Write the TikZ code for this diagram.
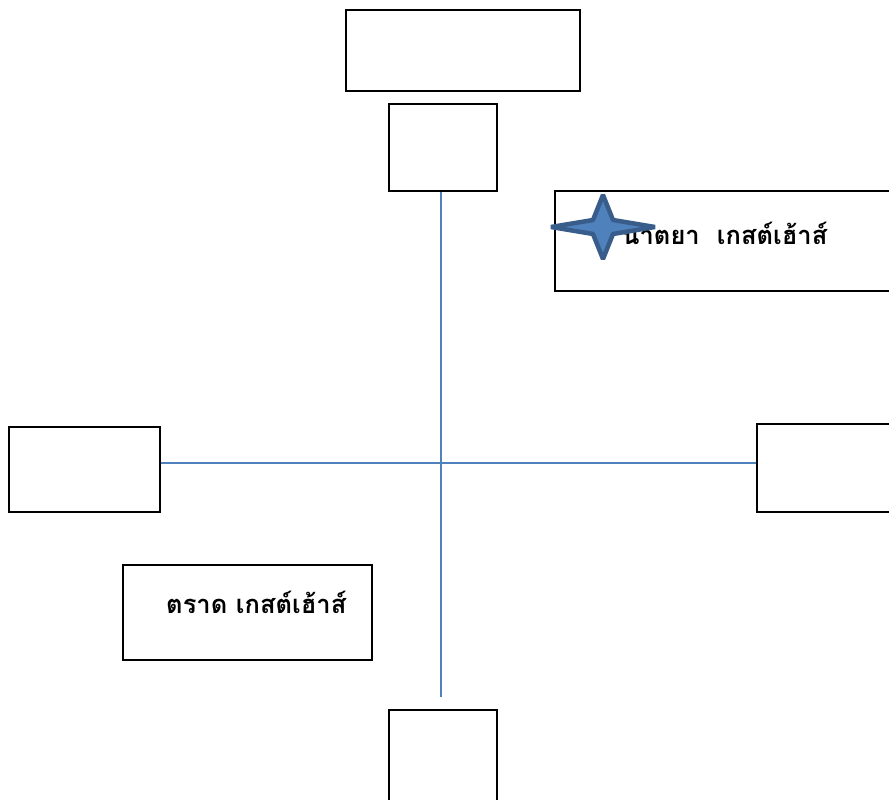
\documentclass[tikz,border=0pt]{standalone}
\usepackage{fontspec}
\newfontfamily\thaifont[Script=Thai]{Loma}
\begin{document}
\begin{tikzpicture}[x=1pt,y=-1pt,
  box/.style={draw=black,line width=1.4pt,fill=white,inner sep=0pt},
  link/.style={draw=linkblue,line width=1.8pt},
  lbl/.style={font=\thaifont\bfseries\fontsize{25.5}{30}\selectfont,inner sep=0pt,anchor=base west}]
\definecolor{linkblue}{HTML}{4F81BD}
\definecolor{starfill}{HTML}{4F81BD}
\definecolor{starline}{HTML}{385D8A}
\useasboundingbox (0,0) rectangle (889,800);
\clip (0,0) rectangle (889,800);
% lines
\coordinate (vtop) at (441,191);
\coordinate (vbot) at (441,697);
\coordinate (hleft) at (160,463);
\coordinate (hright) at (757,463);
\draw[link] (vtop) -- (vbot);
\draw[link] (hleft) -- (hright);
% boxes
\node[box,minimum width=234pt,minimum height=81pt] (topwide) at (463,50.5) {};
\node[box,minimum width=108pt,minimum height=87pt] (topsmall) at (443,147.5) {};
\node[box,minimum width=340pt,minimum height=100pt] (rbox) at (725,241) {};
\node[box,minimum width=151pt,minimum height=85pt] (lbox) at (84.5,469.5) {};
\node[box,minimum width=146pt,minimum height=88pt] (rsbox) at (830,468) {};
\node[box,minimum width=249pt,minimum height=95pt] (llbox) at (247.5,612.5) {};
\node[box,minimum width=108pt,minimum height=100pt] (bbox) at (443,760) {};
% texts
\node[lbl] (t1) at (622,244) {นาตยา\ \ เกสต์เฮ้าส์};
\node[lbl] (t2) at (166,613) {ตราด เกสต์เฮ้าส์};
% star
\filldraw[fill=starfill,draw=starline,line width=4.5pt,line join=bevel]
  (603,195) -- (613,220) -- (655,227) -- (613,234) -- (603,259) -- (593,234) -- (551,227) -- (593,220) -- cycle;
\end{tikzpicture}
\end{document}
